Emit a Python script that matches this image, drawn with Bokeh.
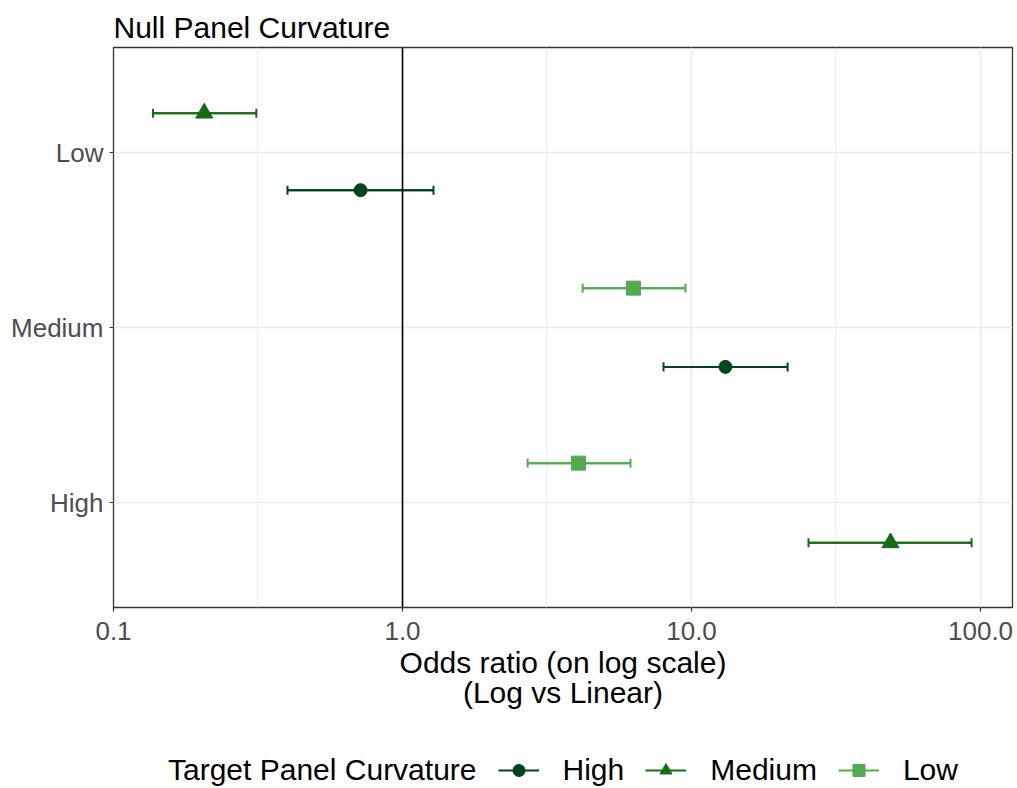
from bokeh.plotting import figure
from bokeh.layouts import column
from bokeh.models import (Range1d, FixedTicker, ColumnDataSource, Whisker, TeeHead,
                          Legend, LegendItem, Span, Grid)
from bokeh.embed import file_html
from bokeh.resources import INLINE

# ---- data ----
null_levels = ["High", "Medium", "Low"]          # y categories (bottom -> top)
null_pos = {"High": 1, "Medium": 2, "Low": 3}
target_levels = ["High", "Medium", "Low"]
colors = {"High": "#00441B", "Medium": "#166B16", "Low": "#52AB52"}
markers = {"High": "circle", "Medium": "triangle", "Low": "square"}
sizes = {"High": 13, "Medium": 17, "Low": 14}
legend_sizes = {"High": 11, "Medium": 17, "Low": 14}

# rows: null level, target level, odds ratio, lower, upper
null_cat = ["Low", "Low", "Medium", "Medium", "High", "High"]
target_cat = ["Medium", "High", "Low", "High", "Low", "Medium"]
odds = [0.206, 0.716, 6.30, 13.1, 4.06, 48.8]
lower = [0.137, 0.40, 4.20, 8.0, 2.71, 25.4]
upper = [0.312, 1.28, 9.53, 21.5, 6.15, 93.1]
dodge = {"Low": {"Medium": 0.225, "High": -0.215},
         "Medium": {"Low": 0.225, "High": -0.225},
         "High": {"Low": 0.225, "Medium": -0.23}}

x_ticks = [0.1, 1, 10, 100]
x_tick_labels = {0.1: "0.1", 1: "1.0", 10: "10.0", 100: "100.0"}
x_minor = [0.316, 3.16, 31.6]

FONT = "Liberation Sans"

p = figure(width=1014, height=738, x_axis_type="log", output_backend="svg",
           toolbar_location=None, x_range=Range1d(0.1, 129), y_range=Range1d(0.4, 3.6),
           min_border_left=113, min_border_right=2, min_border_top=47, min_border_bottom=131)
p.title.text = "Null Panel Curvature"
p.title.text_font = FONT
p.title.text_font_size = "30px"
p.title.text_font_style = "normal"
p.title.text_color = "#000000"
p.title.align = "left"
p.title.offset = 0
p.title.standoff = 8

p.outline_line_color = "#333333"
p.outline_line_width = 1.3
p.background_fill_color = "white"

# grid
p.xgrid.ticker = FixedTicker(ticks=x_ticks)
p.ygrid.ticker = FixedTicker(ticks=[1, 2, 3])
for g in (p.xgrid, p.ygrid):
    g.grid_line_color = "#EBEBEB"
    g.grid_line_width = 1.6
minor_grid = Grid(dimension=0, ticker=FixedTicker(ticks=x_minor),
                  grid_line_color="#EBEBEB", grid_line_width=0.9)
p.add_layout(minor_grid)

# axes
p.xaxis.ticker = FixedTicker(ticks=x_ticks)
p.xaxis.major_label_overrides = x_tick_labels
p.yaxis.ticker = FixedTicker(ticks=[1, 2, 3])
p.yaxis.major_label_overrides = {null_pos[k]: k for k in null_levels}
for ax in (p.xaxis, p.yaxis):
    ax.axis_line_color = None
    ax.major_tick_line_color = "#333333"
    ax.major_tick_line_width = 1.2
    ax.major_tick_in = 0
    ax.major_tick_out = 4
    ax.minor_tick_line_color = None
    ax.major_label_text_font = FONT
    ax.major_label_text_font_size = "26px"
    ax.major_label_text_color = "#4D4D4D"
p.xaxis.major_label_standoff = 10
p.yaxis.major_label_standoff = 6
p.xaxis.axis_label = "Odds ratio (on log scale)\n(Log vs Linear)"
p.xaxis.axis_label_text_font = FONT
p.xaxis.axis_label_text_font_size = "30px"
p.xaxis.axis_label_text_font_style = "normal"
p.xaxis.axis_label_text_color = "#000000"
p.xaxis.axis_label_text_line_height = 0.92
p.xaxis.axis_label_standoff = 3

# reference line at 1
p.add_layout(Span(location=1, dimension="height", line_color="black", line_width=1.6))

# legend strip (separate figure below the plot; its ranges show none of the data)
p2 = figure(width=1014, height=48, output_backend="svg", toolbar_location=None,
            x_range=Range1d(1000, 1001), y_range=Range1d(1000, 1001), min_border=0)
p2.axis.visible = False
p2.grid.visible = False
p2.outline_line_color = None

legend_items = []
title_src = ColumnDataSource(dict(x=[odds[0]], y=[null_pos[null_cat[0]]]))
dummy = p2.scatter(x="x", y="y", source=title_src, fill_alpha=0, line_alpha=0)
legend_items.append(LegendItem(label="Target Panel Curvature", renderers=[dummy]))

for t in target_levels:
    idx = [i for i, tc in enumerate(target_cat) if tc == t]
    ys = [null_pos[null_cat[i]] + dodge[null_cat[i]][t] for i in idx]
    src = ColumnDataSource(dict(y=ys, x=[odds[i] for i in idx],
                                lo=[lower[i] for i in idx], hi=[upper[i] for i in idx]))
    c = colors[t]
    p.segment(x0="lo", x1="hi", y0="y", y1="y", source=src, line_color=c, line_width=2)
    w = Whisker(base="y", lower="lo", upper="hi", dimension="width", source=src,
                line_color=c, line_width=2,
                upper_head=TeeHead(size=9, line_color=c, line_width=2),
                lower_head=TeeHead(size=9, line_color=c, line_width=2))
    p.add_layout(w)
    p.scatter(x="x", y="y", source=src, marker=markers[t], size=sizes[t],
              fill_color=c, line_color=c)
    lseg = p2.segment(x0="lo", x1="hi", y0="y", y1="y", source=src, line_color=c, line_width=2)
    lsc = p2.scatter(x="x", y="y", source=src, marker=markers[t], size=legend_sizes[t],
                     fill_color=c, line_color=c)
    legend_items.append(LegendItem(label=t, renderers=[lseg, lsc]))

legend = Legend(items=legend_items, orientation="horizontal", location=(-10, -1),
                label_text_font=FONT, label_text_font_size="30px", label_text_color="#000000",
                glyph_width=41, glyph_height=30, spacing=21, label_standoff=24,
                border_line_color=None, background_fill_alpha=0, padding=0, margin=0)
p2.add_layout(legend)

layout = column(p, p2, spacing=0)
open("out.html", "w").write(file_html(layout, INLINE))
